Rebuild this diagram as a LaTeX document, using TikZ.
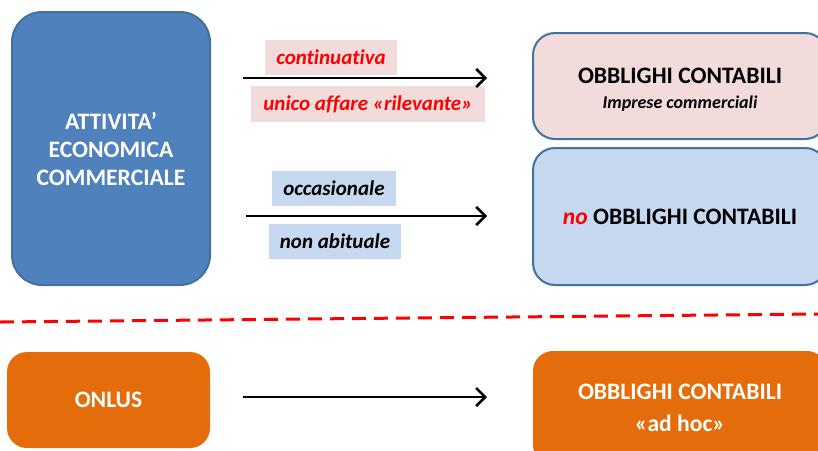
\documentclass[tikz,border=0pt]{standalone}
\usepackage{fontspec}
\setmainfont[Ligatures=NoCommon]{Carlito}
\usetikzlibrary{arrows.meta}
\definecolor{blu_box}{HTML}{4F81BD}
\definecolor{blu_line}{HTML}{41719C}
\definecolor{pink_box}{HTML}{F2DCDB}
\definecolor{lblu_box}{HTML}{C6D9F1}
\definecolor{orange_box}{HTML}{E46C0A}
\tikzset{
	box/.style = {
		align=center,
		inner sep=0pt,
		text centered,
		font=\bfseries\fontsize{11.8}{14}\selectfont
	},
	box_blue/.style = {
		box,
		rounded corners=15pt,
		white,
		draw=blu_line,
		fill=blu_box,
		line width=1pt,
		minimum width=99pt,
		minimum height=136.5pt
	},
	box_pink/.style = {
		box,
		rounded corners=11pt,
		black,
		draw=blu_line,
		fill=pink_box,
		line width=1pt,
		minimum width=147pt,
		minimum height=53pt
	},
	box_lblue/.style = {
		box_pink,
		fill=lblu_box,
		minimum height=68.5pt
	},
	box_orange/.style = {
		box,
		rounded corners=10pt,
		white,
		fill=orange_box,
		minimum width=101.5pt,
		minimum height=48pt
	},
	tag/.style = {
		inner sep=0pt,
		font=\bfseries\itshape\fontsize{10.5}{12}\selectfont,
		minimum height=17.5pt
	},
	tag_red/.style = {
		tag,
		red,
		fill=pink_box
	},
	tag_blue/.style = {
		tag,
		black,
		fill=lblu_box
	},
	flow/.style = {
		-{Straight Barb[length=4.5pt,width=9pt]},
		line width=1.25pt
	}
}

\begin{document}
\begin{tikzpicture}[x=0.5pt, y=-0.5pt]
\useasboundingbox (0,0) rectangle (818,450);
\clip (0,0) rectangle (818,450);
% left column
\node [box_blue] (attivita) at (111,148.5) {ATTIVITA’\\ECONOMICA\\COMMERCIALE};
\node [box_orange] (onlus) at (108.5,400) {ONLUS};
% right column
\node [box_pink] (obblighi) at (680,86) {\rule{0pt}{11pt}OBBLIGHI CONTABILI\\[-1.5pt]{\itshape\fontsize{9}{11}\selectfont Imprese commerciali}};
\node [box_lblue] (noobblighi) at (680,216.5) {{\itshape\color{red}no} OBBLIGHI CONTABILI};
\node [box_orange, minimum width=147pt, minimum height=57pt] (adhoc) at (680,408) {OBBLIGHI CONTABILI\\[2pt]«ad hoc»};
% labels
\node [tag_red, minimum width=66pt] (continuativa) at (331,57) {continuativa};
\node [tag_red, minimum width=117pt, minimum height=18pt] (unico) at (368,104) {unico affare «rilevante»};
\node [tag_blue, minimum width=62pt] (occasionale) at (334,188.5) {occasionale};
\node [tag_blue, minimum width=66pt] (nonabituale) at (335,241.5) {non abituale};
% arrows
\coordinate (in1) at (243,78);
\coordinate (out1) at (487,78);
\coordinate (in2) at (246,216);
\coordinate (out2) at (487,216);
\coordinate (in3) at (243,397);
\coordinate (out3) at (487,397);
\draw [flow] (in1) -- (out1);
\draw [flow] (in2) -- (out2);
\draw [flow] (in3) -- (out3);
% separator
\coordinate (sep_l) at (0,322);
\coordinate (sep_r) at (818,314);
\draw [red, line width=1.5pt, dash pattern=on 7pt off 4pt] (sep_l) -- (sep_r);
\end{tikzpicture}
\end{document}
